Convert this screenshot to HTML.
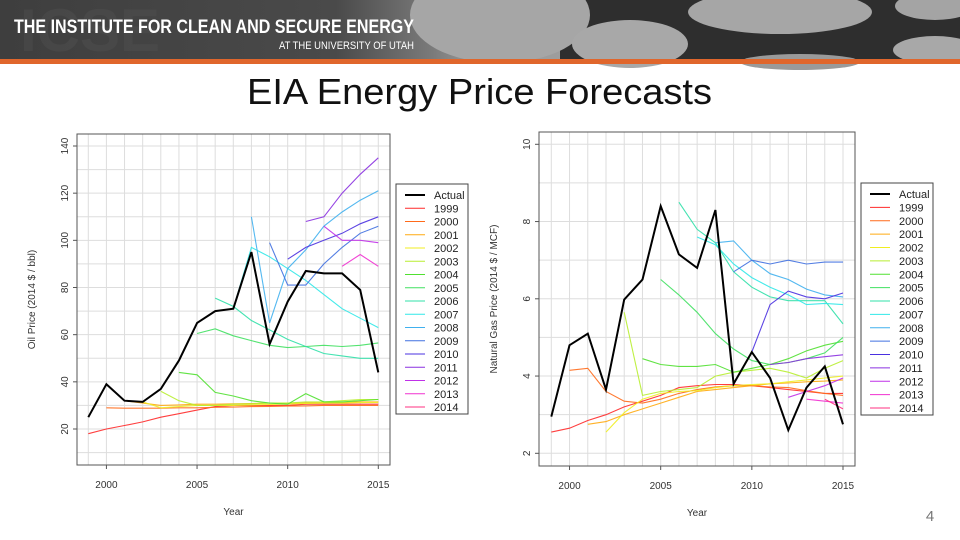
<!DOCTYPE html>
<html><head><meta charset="utf-8"><style>
html,body{margin:0;padding:0;background:#fff;width:960px;height:540px;overflow:hidden}
svg{display:block;font-family:"Liberation Sans",sans-serif}
</style></head><body>
<svg id="root" width="960" height="540" viewBox="0 0 960 540">
<defs>
<linearGradient id="hg" x1="0" x2="1" y1="0" y2="0">
<stop offset="0" stop-color="#3e3e3e"/><stop offset="0.35" stop-color="#4a4a4a"/><stop offset="0.45" stop-color="#7a7a7a"/><stop offset="0.5" stop-color="#9c9c9c"/><stop offset="1" stop-color="#a4a4a4"/>
</linearGradient>
</defs>
<g>
<rect x="0" y="0" width="960" height="59" fill="url(#hg)"/>
<rect x="560" y="0" width="400" height="59" fill="#2e2e2e"/>
<ellipse cx="500" cy="15" rx="90" ry="48" fill="#a6a6a6"/>
<ellipse cx="630" cy="44" rx="58" ry="24" fill="#a8a8a8"/>
<ellipse cx="780" cy="12" rx="92" ry="22" fill="#a6a6a6"/>
<ellipse cx="935" cy="6" rx="40" ry="14" fill="#a4a4a4"/>
<ellipse cx="935" cy="50" rx="42" ry="14" fill="#a8a8a8"/>
<ellipse cx="800" cy="62" rx="60" ry="8" fill="#9a9a9a"/>
<text x="20" y="8" font-size="60" font-weight="bold" fill="#555" opacity="0.35" dominant-baseline="hanging">ICSE</text>
<text x="14" y="33" font-size="19" font-weight="bold" fill="#fff" textLength="400" lengthAdjust="spacingAndGlyphs">THE INSTITUTE FOR CLEAN AND SECURE ENERGY</text>
<text x="414" y="49" font-size="11" fill="#fff" text-anchor="end" textLength="135" lengthAdjust="spacingAndGlyphs">AT THE UNIVERSITY OF UTAH</text>
<rect x="0" y="59" width="960" height="5" fill="#e0662c"/>
</g>
<text x="247" y="104" font-size="36" fill="#111" textLength="465" lengthAdjust="spacingAndGlyphs">EIA Energy Price Forecasts</text>
<text x="930" y="521" font-size="15" text-anchor="middle" fill="#777">4</text>
<g id="oil"></g>
<g id="gas"></g>
</svg>
<script>
const years = [1999,2000,2001,2002,2003,2004,2005,2006,2007,2008,2009,2010,2011,2012,2013,2014,2015];
const seriesNames = ["Actual","1999","2000","2001","2002","2003","2004","2005","2006","2007","2008","2009","2010","2011","2012","2013","2014"];
const seriesColors = ["#000","#ff2a2a","#ff6a1a","#ffaa10","#f0ee20","#b8ee30","#50e030","#40e060","#30e0a8","#30e8e8","#40b0ee","#4070e0","#4a30e0","#8a30e0","#c030e8","#f030d0","#ff3080"];
const oilActual = [25,39,32,31.5,37,49,65,70,71,95,56,74,87,86,86,79,44];
const oilStart = [1999,2000,2001,2002,2003,2004,2005,2006,2007,2008,2009,2010,2011,2012,2013,2014];
const oilF1999 = [18,20,21.5,23,25,26.5,28,29.5,30,30,30,30,30.5,30.5,30.5,30.5,30.5];
const oilF2000 = [29,28.8,28.8,28.8,29,29,29.2,29.3,29.5,29.6,29.7,29.8,30,30,30,30];
const oilF2001 = [32,31,30,30.2,30.5,30.5,30.7,30.8,31,31,31,31.2,31.3,31.5,31.5];
const oilF2002 = [31.5,29,29.5,30,30,30,30.2,30.4,30.6,30.8,31,31,31.2,31.3];
const oilF2003 = [36,32,30,30,30.5,30.7,31,31,31.5,31.5,32,32.5,32.5];
const oilF2004 = [44,43,35.5,34,32,31,30.5,35,31.5,31.5,32,32.5];
const oilF2005 = [60.5,62.5,59.5,57.5,55.5,54.5,55,55.5,55,55.5,56.5];
const oilF2006 = [75.5,72,66,62,58,55,52,51,50,50];
const oilF2007 = [71,97,93,88,83,77,71,67,63];
const oilF2008 = [110,65,88,96,106,112,117,121];
const oilF2009 = [99,81,81,90,97,103,106];
const oilF2010 = [92,97,100,103,107,110];
const oilF2011 = [108,110,120,128,135];
const oilF2012 = [106,100,100,99];
const oilF2013 = [89,94,89];
const oilF2014 = [79,44];
const oilTicks = [20,40,60,80,100,120,140];
const gasActual = [2.95,4.8,5.1,3.65,5.98,6.5,8.4,7.15,6.8,8.3,3.8,4.62,3.95,2.6,3.7,4.25,2.75];
const gasF1999 = [2.55,2.65,2.85,3.0,3.2,3.35,3.5,3.7,3.75,3.78,3.78,3.75,3.7,3.65,3.6,3.55,3.55];
const gasF2000 = [4.15,4.2,3.6,3.35,3.3,3.4,3.55,3.65,3.72,3.75,3.75,3.72,3.7,3.62,3.55,3.5];
const gasF2001 = [2.75,2.82,3.0,3.15,3.3,3.45,3.6,3.65,3.7,3.75,3.8,3.82,3.85,3.87,3.9];
const gasF2002 = [2.55,3.05,3.4,3.55,3.6,3.62,3.7,3.75,3.78,3.8,3.85,3.9,3.95,4.0];
const gasF2003 = [5.65,3.5,3.6,3.65,3.7,4.0,4.1,4.15,4.2,4.1,3.95,4.2,4.4];
const gasF2004 = [4.45,4.3,4.25,4.25,4.3,4.1,4.2,4.3,4.45,4.65,4.8,4.9];
const gasF2005 = [6.5,6.1,5.65,5.1,4.7,4.4,4.3,4.35,4.45,4.6,5.0];
const gasF2006 = [8.5,7.8,7.45,6.7,6.3,6.05,5.95,5.95,5.95,5.35];
const gasF2007 = [7.6,7.4,6.9,6.55,6.3,6.1,5.85,5.88,5.85];
const gasF2008 = [7.45,7.5,7.0,6.65,6.5,6.25,6.1,6.05];
const gasF2009 = [6.7,7.0,6.9,7.0,6.9,6.95,6.95];
const gasF2010 = [4.62,5.85,6.2,6.05,6.0,6.15];
const gasF2011 = [4.3,4.35,4.45,4.5,4.55];
const gasF2012 = [3.45,3.6,3.75,3.95];
const gasF2013 = [3.4,3.35,3.3];
const gasF2014 = [3.4,3.15];
const gasTicks = [2,4,6,8,10];
const xTicks = [2000,2005,2010,2015];

const NS="http://www.w3.org/2000/svg";
function mk(parent,tag,attrs){const e=document.createElementNS(NS,tag);for(const k in attrs)e.setAttribute(k,attrs[k]);parent.appendChild(e);return e;}

function drawChart(g, cfg, actual, forecasts, ticks){
  const xs = y => cfg.x0 + (y-1999)*(cfg.x1-cfg.x0)/16;
  const ys = v => cfg.yA - (v-cfg.vA)*(cfg.yA-cfg.yB)/(cfg.vB-cfg.vA);
  for(let y=1999;y<=2015;y++){
    const l=mk(g,'line',{x1:xs(y),x2:xs(y),y1:cfg.top,y2:cfg.bot,stroke:'#ddd','stroke-width':1});
    
    
  }
  for(let v=cfg.gridMin; v<=cfg.gridMax+1e-9; v+=cfg.gridStep){
    const l=mk(g,'line',{x1:cfg.left,x2:cfg.right,y1:ys(v),y2:ys(v),stroke:'#ddd','stroke-width':1});
    
    
  }
  const box=mk(g,'rect',{x:cfg.left,y:cfg.top,width:cfg.right-cfg.left,height:cfg.bot-cfg.top,fill:'none',stroke:'#555','stroke-width':1});
  
  
  ticks.forEach(t=>{
    const tl=mk(g,'line',{x1:cfg.left-4,x2:cfg.left,y1:ys(t),y2:ys(t),stroke:'#555'});
    
    
    const tx=mk(g,'text',{x:0,y:0,'font-size':10,'text-anchor':'middle',fill:'#333',transform:`translate(${cfg.left-9},${ys(t)}) rotate(-90)`});
    tx.textContent=t;
    
    
  });
  xTicks.forEach(t=>{
    const tl=mk(g,'line',{x1:xs(t),x2:xs(t),y1:cfg.bot,y2:cfg.bot+4,stroke:'#555'});
    
    
    const tx=mk(g,'text',{x:xs(t),y:cfg.bot+23,'font-size':10,'text-anchor':'middle',fill:'#333'});
    tx.textContent=t;
    
    
  });
  const xt=mk(g,'text',{x:(cfg.left+cfg.right)/2,y:cfg.bot+50,'font-size':10,'text-anchor':'middle',fill:'#333'});
  xt.textContent='Year';
  
  
  const yt=mk(g,'text',{x:0,y:0,'font-size':10,'text-anchor':'middle',fill:'#333',transform:`translate(${cfg.left-42},${(cfg.top+cfg.bot)/2}) rotate(-90)`});
  yt.textContent=cfg.ytitle;
  
  
  forecasts.forEach((arr,i)=>{
    const st=oilStart[i];
    const pts=arr.map((v,k)=>xs(st+k).toFixed(1)+','+ys(v).toFixed(1)).join(' ');
    const p=mk(g,'polyline',{points:pts,fill:'none',stroke:seriesColors[i+1],'stroke-width':1.1,opacity:0.9});
    
    
  });
  const ap=actual.map((v,k)=>xs(years[k]).toFixed(1)+','+ys(v).toFixed(1)).join(' ');
  const a=mk(g,'polyline',{points:ap,fill:'none',stroke:'#000','stroke-width':2});
  
  
  const lg=mk(g,'g',{});
  
  
  const lr=mk(lg,'rect',{x:cfg.lx,y:cfg.ly,width:cfg.lw,height:cfg.lh,fill:'#fff',stroke:'#444'});
  
  
  const step=(cfg.lh-18)/16;
  seriesNames.forEach((n,i)=>{
    const yy=cfg.ly+11+i*step;
    const ll=mk(lg,'line',{x1:cfg.lx+9,x2:cfg.lx+29,y1:yy,y2:yy,stroke:seriesColors[i],'stroke-width':i==0?2:1});
    
    
    const tx=mk(lg,'text',{x:cfg.lx+38,y:yy+4,'font-size':11,fill:'#222'});
    tx.textContent=n;
    
    
  });
}
const oilG=document.getElementById('oil');


drawChart(oilG,{x0:88.3,x1:378.3,vA:20,yA:429,vB:140,yB:146,left:77,right:390,top:134,bot:465,gridMin:10,gridMax:140,gridStep:10,ytitle:'Oil Price (2014 $ / bbl)',lx:396,ly:184,lw:72,lh:230},
  oilActual,[oilF1999,oilF2000,oilF2001,oilF2002,oilF2003,oilF2004,oilF2005,oilF2006,oilF2007,oilF2008,oilF2009,oilF2010,oilF2011,oilF2012,oilF2013,oilF2014],oilTicks);
const gasG=document.getElementById('gas');


drawChart(gasG,{x0:551.3,x1:843,vA:2,yA:453.3,vB:10,yB:144.3,left:539,right:855,top:132,bot:466,gridMin:2,gridMax:10,gridStep:1,ytitle:'Natural Gas Price (2014 $ / MCF)',lx:861,ly:183,lw:72,lh:232},
  gasActual,[gasF1999,gasF2000,gasF2001,gasF2002,gasF2003,gasF2004,gasF2005,gasF2006,gasF2007,gasF2008,gasF2009,gasF2010,gasF2011,gasF2012,gasF2013,gasF2014],gasTicks);
</script>
</body></html>
